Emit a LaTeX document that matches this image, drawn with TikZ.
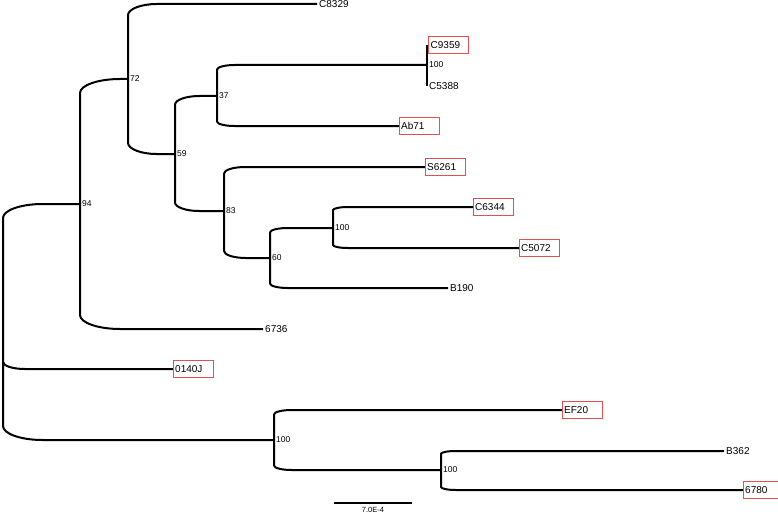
\documentclass[tikz,border=0pt]{standalone}
\usepackage{fontspec}
\setmainfont{Liberation Sans}
\usetikzlibrary{calc}
\definecolor{tipred}{RGB}{226,80,84}

\begin{document}
\begin{tikzpicture}[
    x=1pt, y=-1pt,
    branch/.style={line width=2pt, to path={let \p1=(\tikztostart), \p2=(\tikztotarget), \n1={sign(\y1-\y2)*min(14,0.15*abs(\y1-\y2))}, \n2={min(40,0.25*abs(\y1-\y2)+10,\x2-\x1)} in -- (\x1,{\y2+\n1*1pt}) .. controls (\x1,{\y2+0.45*\n1*1pt}) and ({\x1+0.45*\n2*1pt},\y2) .. ({\x1+\n2*1pt},\y2) -- (\tikztotarget)}},
    leaf/.style={font=\fontsize{10}{12}\selectfont, inner sep=2pt, anchor=west},
    boxed/.style={leaf, text width=36pt, align=left, minimum height=16pt},
    tipbox/.style={draw=tipred, line width=0.9pt},
    support/.style={font=\fontsize{8.5}{10}\selectfont, inner sep=2pt},
    scalelbl/.style={font=\fontsize{7.5}{9}\selectfont, inner sep=1pt}
]
\useasboundingbox (0,0) rectangle (778,516);
\coordinate (root) at (3,322);
\coordinate[label={[support]right:94}] (n94) at (80,204);
\coordinate[label={[support]right:72}] (n72) at (128,79);
\coordinate[label={[support]right:59}] (n59) at (175,154);
\coordinate[label={[support]right:37}] (n37) at (217,96);
\coordinate[label={[support]right:100}] (n100a) at (427,65);
\coordinate[label={[support]right:83}] (n83) at (224,211);
\coordinate[label={[support]right:60}] (n60) at (270,258);
\coordinate[label={[support]right:100}] (n100b) at (333,228);
\coordinate[label={[support]right:100}] (n100c) at (274,440);
\coordinate[label={[support]right:100}] (n100d) at (441,470);
\coordinate (c8329) at (317,4);
\coordinate (c9359) at (427,45);
\coordinate (c5388) at (427,86);
\coordinate (ab71) at (399,126);
\coordinate (s6261) at (425,167);
\coordinate (c6344) at (473,207);
\coordinate (c5072) at (519,248);
\coordinate (b190) at (448,288);
\coordinate (t6736) at (263,329);
\coordinate (t0140j) at (173,369);
\coordinate (ef20) at (562,410);
\coordinate (b362) at (724,451);
\coordinate (t6780) at (743,490);
\node[leaf] (c8329lbl) at (c8329) {C8329};
\node[boxed] (c9359lbl) at ([xshift=1.5pt]c9359) {C9359};
\node[leaf] (c5388lbl) at (c5388) {C5388};
\node[boxed] (ab71lbl) at (ab71) {Ab71};
\node[boxed] (s6261lbl) at (s6261) {S6261};
\node[boxed] (c6344lbl) at (c6344) {C6344};
\node[boxed] (c5072lbl) at (c5072) {C5072};
\node[leaf] (b190lbl) at (b190) {B190};
\node[leaf] (t6736lbl) at (t6736) {6736};
\node[boxed] (t0140jlbl) at (t0140j) {0140J};
\node[boxed] (ef20lbl) at (ef20) {EF20};
\node[leaf] (b362lbl) at (b362) {B362};
\node[boxed] (t6780lbl) at (t6780) {6780};
\draw[branch] (root) to (n94) (root) to (t0140j) (root) to (n100c);
\draw[branch] (n94) to (n72) (n94) to (t6736);
\draw[branch] (n72) to (c8329) (n72) to (n59);
\draw[branch] (n59) to (n37) (n59) to (n83);
\draw[branch] (n37) to (n100a) (n37) to (ab71);
\draw[branch] (n100a) to (c9359) (n100a) to (c5388);
\draw[branch] (n83) to (s6261) (n83) to (n60);
\draw[branch] (n60) to (n100b) (n60) to (b190);
\draw[branch] (n100b) to (c6344) (n100b) to (c5072);
\draw[branch] (n100c) to (ef20) (n100c) to (n100d);
\draw[branch] (n100d) to (b362) (n100d) to (t6780);
\foreach \b in {c9359lbl, ab71lbl, s6261lbl, c6344lbl, c5072lbl, t0140jlbl, ef20lbl, t6780lbl}
  \draw[tipbox] (\b.south west) rectangle (\b.north east);
\coordinate (sbl) at (334,503);
\coordinate (sbr) at (412,503);
\draw[line width=2pt] (sbl) -- node[scalelbl, below=2pt] {7.0E-4} (sbr);
\end{tikzpicture}
\end{document}
